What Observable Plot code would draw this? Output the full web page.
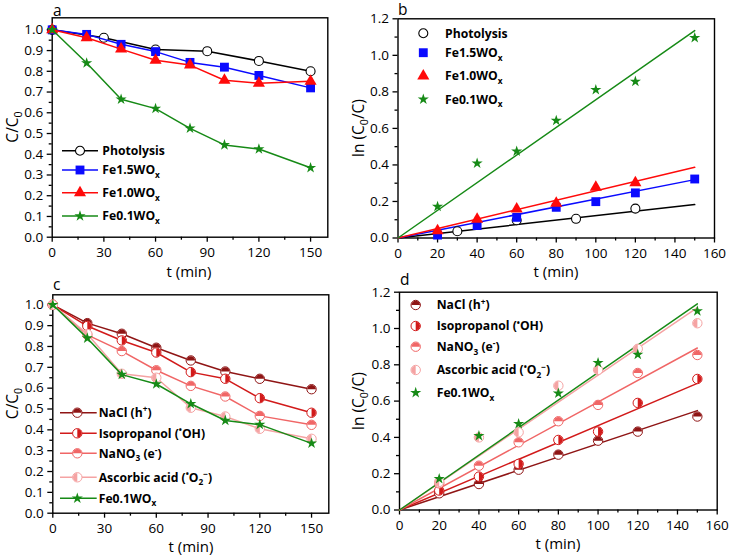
<!DOCTYPE html>
<html>
<head>
<meta charset="utf-8">
<script src="https://cdn.jsdelivr.net/npm/d3@7"></script>
<script src="https://cdn.jsdelivr.net/npm/@observablehq/plot@0.6"></script>
<style>
  html, body { margin: 0; padding: 0; background: #fff; }
  #fig { position: relative; width: 729px; height: 558px; overflow: hidden; font-family: "Open Sans", sans-serif; }
  #fig svg { position: absolute; overflow: visible; max-width: none; }
</style>
</head>
<body>
<div id="fig"></div>
<script>
// ---------- Panel a: C/C0 versus irradiation time ----------
const timeA = [0, 20, 40, 60, 80, 100, 120, 150];
const timePhotolysis = [0, 30, 60, 90, 120, 150];
const photolysisC = [1.0, 0.962, 0.905, 0.897, 0.85, 0.80];
const fe15C = [1.0, 0.978, 0.93, 0.895, 0.843, 0.82, 0.78, 0.72];
const fe10C = [1.0, 0.962, 0.907, 0.853, 0.83, 0.757, 0.742, 0.752];
const fe01C = [1.0, 0.84, 0.665, 0.62, 0.525, 0.445, 0.425, 0.335];

// ---------- Panel b: ln(C0/C) with pseudo-first-order fits ----------
const timeBPhotolysis = [30, 60, 90, 120];
const photolysisLn = [0.037, 0.097, 0.105, 0.161];
const timeB = [20, 40, 60, 80, 100, 120, 150];
const fe15Ln = [0.016, 0.068, 0.113, 0.168, 0.199, 0.247, 0.323];
const timeBFe10 = [20, 40, 60, 80, 100, 120];
const fe10Ln = [0.04, 0.102, 0.159, 0.19, 0.278, 0.303];
const fe01Ln = [0.172, 0.409, 0.475, 0.643, 0.811, 0.857, 1.096];
// apparent rate constants k (min^-1): Photolysis, Fe1.5WOx, Fe1.0WOx, Fe0.1WOx
const rateB = [0.00122, 0.00213, 0.00258, 0.00757];

// ---------- Panel c: scavenger tests, C/C0 ----------
const timeC = [0, 20, 40, 60, 80, 100, 120, 150];
const naclC = [1.0, 0.912, 0.861, 0.794, 0.733, 0.68, 0.645, 0.595];
const isoC = [1.0, 0.898, 0.829, 0.771, 0.677, 0.645, 0.552, 0.482];
const nano3C = [1.0, 0.856, 0.778, 0.686, 0.611, 0.56, 0.467, 0.424];
const ascC = [1.0, 0.86, 0.669, 0.65, 0.506, 0.464, 0.405, 0.357];

// ---------- Panel d: scavenger tests, ln(C0/C) ----------
const timeD = [20, 40, 60, 80, 100, 120, 150];
const naclLn = [0.092, 0.143, 0.222, 0.305, 0.382, 0.432, 0.515];
const isoLn = [0.107, 0.184, 0.254, 0.386, 0.432, 0.59, 0.722];
const nano3Ln = [0.147, 0.244, 0.373, 0.489, 0.579, 0.755, 0.854];
const ascLn = [0.155, 0.40, 0.428, 0.685, 0.772, 0.888, 1.029];
// NaCl, Isopropanol, NaNO3, Ascorbic acid, Fe0.1WOx
const rateD = [0.00365, 0.00465, 0.00595, 0.00743, 0.00757];

// tick values
const ticks30 = [0, 30, 60, 90, 120, 150];
const ticks15 = [15, 45, 75, 105, 135];
const ticks20 = [0, 20, 40, 60, 80, 100, 120, 140, 160];
const ticks10 = [10, 30, 50, 70, 90, 110, 130, 150];
const ticksC = d3.range(0, 11).map(i => i / 10);
const ticksCminor = d3.range(0, 10).map(i => i / 10 + 0.05);
const ticksLn = [0, 0.2, 0.4, 0.6, 0.8, 1.0, 1.2];
const ticksLnMinor = [0.1, 0.3, 0.5, 0.7, 0.9, 1.1];

// colours
const BLACK = "#000000", BLUE = "#0a0aff", RED = "#ff0a0a", GREEN = "#168a16";
const C_NACL = "#8f1515", C_ISO = "#d21a1a", C_NANO3 = "#f06666", C_ASC = "#f5a3a3";

const fig = document.getElementById("fig");
const rows = (ts, vs) => ts.map((t, i) => ({t, v: vs[i]}));
const fitLine = k => [0, 150].map(t => ({t, v: k * t}));

// half-filled disc symbols
const halfDisc = a0 => ({
  draw(ctx, size) {
    const r = Math.sqrt(size / Math.PI) - 0.4;
    ctx.moveTo(r * Math.cos(a0), r * Math.sin(a0));
    ctx.arc(0, 0, r, a0, a0 + Math.PI);
    ctx.closePath();
  }
});
const HALF_TOP = halfDisc(Math.PI), HALF_RIGHT = halfDisc(-Math.PI / 2),
      HALF_LEFT = halfDisc(Math.PI / 2);

const symbolMap = {circle: d3.symbolCircle, square: d3.symbolSquare, triangle: d3.symbolTriangle, star: d3.symbolStar};

const M_PHOT = {symbol: "circle", r: 4.5, fill: "white", stroke: BLACK, strokeWidth: 1.1};
const M_FE15 = {symbol: "square", r: 5.0, fill: BLUE};
const M_FE10 = {symbol: "triangle", r: 4.5, fill: RED};
const M_FE01 = {symbol: "star", r: 3.5, fill: GREEN};
const M_NACL = {half: HALF_TOP, r: 4.7, color: C_NACL};
const M_ISO = {half: HALF_RIGHT, r: 4.7, color: C_ISO};
const M_NANO3 = {half: HALF_TOP, r: 4.7, color: C_NANO3};
const M_ASC = {half: HALF_LEFT, r: 4.7, color: C_ASC};

function dotMarks(data, m) {
  if (m.half) return [
    Plot.dot(data, {x: "t", y: "v", r: m.r, fill: "white", stroke: m.color, strokeWidth: 1}),
    Plot.dot(data, {x: "t", y: "v", r: m.r, symbol: m.half, fill: m.color, stroke: "none"})
  ];
  return [Plot.dot(data, {x: "t", y: "v", r: m.r, symbol: m.symbol, fill: m.fill,
    stroke: m.stroke || "none", strokeWidth: m.strokeWidth || 1})];
}

function drawMarker(g, x, y, m) {
  if (m.half) {
    g.append("circle").attr("cx", x).attr("cy", y).attr("r", m.r)
      .attr("fill", "white").attr("stroke", m.color).attr("stroke-width", 1);
    g.append("path").attr("transform", `translate(${x},${y})`)
      .attr("d", d3.symbol(m.half, Math.PI * m.r * m.r)()).attr("fill", m.color);
  } else {
    g.append("path").attr("transform", `translate(${x},${y})`)
      .attr("d", d3.symbol(symbolMap[m.symbol], Math.PI * m.r * m.r)())
      .attr("fill", m.fill).attr("stroke", m.stroke || "none").attr("stroke-width", m.strokeWidth || 1);
  }
}

// text with sub/superscript parts: ["plain", ["x","sub"], ["+","sup"]]
function rich(textSel, parts, fs) {
  let cur = 0;
  for (const p of parts) {
    const [t, kind] = Array.isArray(p) ? p : [p, ""];
    const shift = kind === "sub" ? 0.28 * fs : kind === "sup" ? -0.38 * fs : 0;
    textSel.append("tspan").attr("dy", shift - cur).attr("font-size", kind ? 0.68 * fs : fs).text(t);
    cur = shift;
  }
}

function addText(svg, origin, x, y, parts, {size = 15, weight = 400, rotate = false, anchor = "middle"} = {}) {
  const t = d3.select(svg).append("text").attr("font-size", size).attr("font-weight", weight)
    .attr("text-anchor", anchor).attr("fill", "#000");
  const px = x - origin[0], py = y - origin[1];
  if (rotate) t.attr("transform", `translate(${px},${py}) rotate(-90)`);
  else t.attr("x", px).attr("y", py);
  rich(t, parts, size);
}

function legend(svg, origin, spec) {
  const g = d3.select(svg).append("g").attr("transform", `translate(${-origin[0]},${-origin[1]})`);
  const fs = 12.2;
  for (const it of spec.items) {
    if (spec.line) g.append("line").attr("x1", spec.line[0]).attr("x2", spec.line[1])
      .attr("y1", it.y).attr("y2", it.y).attr("stroke", it.color).attr("stroke-width", 1.5);
    drawMarker(g, spec.markerX, it.y, it.marker);
    const t = g.append("text").attr("x", spec.textX).attr("y", it.y + 0.36 * fs)
      .attr("text-anchor", "start")
      .attr("font-size", fs).attr("font-weight", 700).attr("fill", "#000");
    rich(t, it.label, fs);
  }
}

function panel({box, frame, yDomain, xMajor, xMinor, yMajor, yMinor, yFormat, marks}) {
  const [left, top, width, height] = box;
  const svg = Plot.plot({
    width, height,
    marginLeft: frame[0] - left, marginTop: frame[1] - top,
    marginRight: left + width - frame[2], marginBottom: top + height - frame[3],
    x: {domain: [0, 160], label: null},
    y: {domain: yDomain, label: null},
    style: {fontFamily: "'Open Sans', sans-serif", fontSize: "13.5px", color: "#000",
            background: "transparent", overflow: "visible"},
    marks: [
      Plot.frame({stroke: "#000", strokeWidth: 1.4}),
      Plot.axisX({ticks: xMajor, tickSize: 5, tickPadding: 5, tickFormat: d => String(d), label: null, strokeWidth: 1.3}),
      Plot.axisX({ticks: xMinor, tickSize: 3, tickFormat: () => "", label: null, strokeWidth: 1.3}),
      Plot.axisY({ticks: yMajor, tickSize: 5, tickPadding: 4, tickFormat: yFormat, label: null, strokeWidth: 1.3}),
      Plot.axisY({ticks: yMinor, tickSize: 3, tickFormat: () => "", label: null, strokeWidth: 1.3}),
      ...marks
    ]
  });
  svg.style.left = left + "px";
  svg.style.top = top + "px";
  fig.appendChild(svg);
  return [svg, [left, top]];
}

const fmt1 = d3.format(".1f");

// ===== panel a =====
{
  const [svg, o] = panel({
    box: [0, 0, 365, 280], frame: [51.7, 17.3, 327.3, 236.7], yDomain: [0, 1.058],
    xMajor: ticks30, xMinor: ticks15, yMajor: ticksC, yMinor: ticksCminor, yFormat: fmt1,
    marks: [
      Plot.line(rows(timePhotolysis, photolysisC), {x: "t", y: "v", stroke: BLACK, strokeWidth: 1.5}),
      ...dotMarks(rows(timePhotolysis, photolysisC), M_PHOT),
      Plot.line(rows(timeA, fe15C), {x: "t", y: "v", stroke: BLUE, strokeWidth: 1.5}),
      ...dotMarks(rows(timeA, fe15C), M_FE15),
      Plot.line(rows(timeA, fe10C), {x: "t", y: "v", stroke: RED, strokeWidth: 1.5}),
      ...dotMarks(rows(timeA, fe10C), M_FE10),
      Plot.line(rows(timeA, fe01C), {x: "t", y: "v", stroke: GREEN, strokeWidth: 1.5}),
      ...dotMarks(rows(timeA, fe01C), M_FE01)
    ]
  });
  addText(svg, o, 53, 15.5, ["a"], {size: 15.5, anchor: "start"});
  addText(svg, o, 189, 277, ["t (min)"], {size: 15});
  addText(svg, o, 18, 127, ["C/C", ["0", "sub"]], {size: 15.5, rotate: true});
  legend(svg, o, {line: [62, 98], markerX: 80, textX: 102.3, items: [
    {y: 150.7, color: BLACK, marker: M_PHOT, label: ["Photolysis"]},
    {y: 170, color: BLUE, marker: M_FE15, label: ["Fe1.5WO", ["x", "sub"]]},
    {y: 192.7, color: RED, marker: M_FE10, label: ["Fe1.0WO", ["x", "sub"]]},
    {y: 216, color: GREEN, marker: M_FE01, label: ["Fe0.1WO", ["x", "sub"]]}
  ]});
}

// ===== panel b =====
{
  const [svg, o] = panel({
    box: [365, 0, 364, 280], frame: [397.5, 18.3, 714, 237.5], yDomain: [0, 1.2],
    xMajor: ticks20, xMinor: ticks10, yMajor: ticksLn, yMinor: ticksLnMinor, yFormat: fmt1,
    marks: [
      Plot.line(fitLine(rateB[0]), {x: "t", y: "v", stroke: BLACK, strokeWidth: 1.5}),
      Plot.line(fitLine(rateB[1]), {x: "t", y: "v", stroke: BLUE, strokeWidth: 1.5}),
      Plot.line(fitLine(rateB[2]), {x: "t", y: "v", stroke: RED, strokeWidth: 1.5}),
      Plot.line(fitLine(rateB[3]), {x: "t", y: "v", stroke: GREEN, strokeWidth: 1.5}),
      ...dotMarks(rows(timeBPhotolysis, photolysisLn), M_PHOT),
      ...dotMarks(rows(timeB, fe15Ln), M_FE15),
      ...dotMarks(rows(timeBFe10, fe10Ln), M_FE10),
      ...dotMarks(rows(timeB, fe01Ln), M_FE01)
    ]
  });
  addText(svg, o, 398, 15, ["b"], {size: 15.5, anchor: "start"});
  addText(svg, o, 556, 276.5, ["t (min)"], {size: 15});
  addText(svg, o, 364, 128, ["ln (C", ["0", "sub"], "/C)"], {size: 15.5, rotate: true});
  legend(svg, o, {line: null, markerX: 423.3, textX: 445, items: [
    {y: 33.3, color: BLACK, marker: M_PHOT, label: ["Photolysis"]},
    {y: 52.7, color: BLUE, marker: M_FE15, label: ["Fe1.5WO", ["x", "sub"]]},
    {y: 76, color: RED, marker: M_FE10, label: ["Fe1.0WO", ["x", "sub"]]},
    {y: 99.3, color: GREEN, marker: M_FE01, label: ["Fe0.1WO", ["x", "sub"]]}
  ]});
}

// ===== panel c =====
{
  const [svg, o] = panel({
    box: [0, 279, 365, 279], frame: [52.3, 294.3, 328.3, 512.7], yDomain: [0, 1.048],
    xMajor: ticks30, xMinor: ticks15, yMajor: ticksC, yMinor: ticksCminor, yFormat: fmt1,
    marks: [
      Plot.line(rows(timeC, naclC), {x: "t", y: "v", stroke: C_NACL, strokeWidth: 1.5}),
      ...dotMarks(rows(timeC, naclC), M_NACL),
      Plot.line(rows(timeC, isoC), {x: "t", y: "v", stroke: C_ISO, strokeWidth: 1.5}),
      ...dotMarks(rows(timeC, isoC), M_ISO),
      Plot.line(rows(timeC, nano3C), {x: "t", y: "v", stroke: C_NANO3, strokeWidth: 1.5}),
      ...dotMarks(rows(timeC, nano3C), M_NANO3),
      Plot.line(rows(timeC, ascC), {x: "t", y: "v", stroke: C_ASC, strokeWidth: 1.5}),
      ...dotMarks(rows(timeC, ascC), M_ASC),
      Plot.line(rows(timeA, fe01C), {x: "t", y: "v", stroke: GREEN, strokeWidth: 1.5}),
      ...dotMarks(rows(timeA, fe01C), M_FE01)
    ]
  });
  addText(svg, o, 53, 290, ["c"], {size: 15.5, anchor: "start"});
  addText(svg, o, 191, 552, ["t (min)"], {size: 15});
  addText(svg, o, 18, 403.5, ["C/C", ["0", "sub"]], {size: 15.5, rotate: true});
  legend(svg, o, {line: [60, 96.7], markerX: 77.3, textX: 98.7, items: [
    {y: 412.7, color: C_NACL, marker: M_NACL, label: ["NaCl (h", ["+", "sup"], ")"]},
    {y: 433.3, color: C_ISO, marker: M_ISO, label: ["Isopropanol (", ["•", "sup"], "OH)"]},
    {y: 453.3, color: C_NANO3, marker: M_NANO3, label: ["NaNO", ["3", "sub"], " (e", ["-", "sup"], ")"]},
    {y: 477.3, color: C_ASC, marker: M_ASC, label: ["Ascorbic acid (", ["•", "sup"], "O", ["2", "sub"], ["−", "sup"], ")"]},
    {y: 498.3, color: GREEN, marker: M_FE01, label: ["Fe0.1WO", ["x", "sub"]]}
  ]});
}

// ===== panel d =====
{
  const [svg, o] = panel({
    box: [365, 279, 364, 279], frame: [399, 291.7, 716.7, 509.5], yDomain: [0, 1.2],
    xMajor: ticks20, xMinor: ticks10, yMajor: ticksLn, yMinor: ticksLnMinor, yFormat: fmt1,
    marks: [
      Plot.line(fitLine(rateD[0]), {x: "t", y: "v", stroke: C_NACL, strokeWidth: 1.5}),
      Plot.line(fitLine(rateD[1]), {x: "t", y: "v", stroke: C_ISO, strokeWidth: 1.5}),
      Plot.line(fitLine(rateD[2]), {x: "t", y: "v", stroke: C_NANO3, strokeWidth: 1.5}),
      Plot.line(fitLine(rateD[3]), {x: "t", y: "v", stroke: C_ASC, strokeWidth: 1.5}),
      Plot.line(fitLine(rateD[4]), {x: "t", y: "v", stroke: GREEN, strokeWidth: 1.5}),
      ...dotMarks(rows(timeD, naclLn), M_NACL),
      ...dotMarks(rows(timeD, isoLn), M_ISO),
      ...dotMarks(rows(timeD, nano3Ln), M_NANO3),
      ...dotMarks(rows(timeD, ascLn), M_ASC),
      ...dotMarks(rows(timeB, fe01Ln), M_FE01)
    ]
  });
  addText(svg, o, 400, 285, ["d"], {size: 15.5, anchor: "start"});
  addText(svg, o, 558, 549, ["t (min)"], {size: 15});
  addText(svg, o, 364, 401, ["ln (C", ["0", "sub"], "/C)"], {size: 15.5, rotate: true});
  legend(svg, o, {line: null, markerX: 415.7, textX: 436.7, items: [
    {y: 305, color: C_NACL, marker: M_NACL, label: ["NaCl (h", ["+", "sup"], ")"]},
    {y: 326, color: C_ISO, marker: M_ISO, label: ["Isopropanol (", ["•", "sup"], "OH)"]},
    {y: 346.7, color: C_NANO3, marker: M_NANO3, label: ["NaNO", ["3", "sub"], " (e", ["-", "sup"], ")"]},
    {y: 370, color: C_ASC, marker: M_ASC, label: ["Ascorbic acid (", ["•", "sup"], "O", ["2", "sub"], ["−", "sup"], ")"]},
    {y: 392.7, color: GREEN, marker: M_FE01, label: ["Fe0.1WO", ["x", "sub"]]}
  ]});
}
</script>
</body>
</html>
